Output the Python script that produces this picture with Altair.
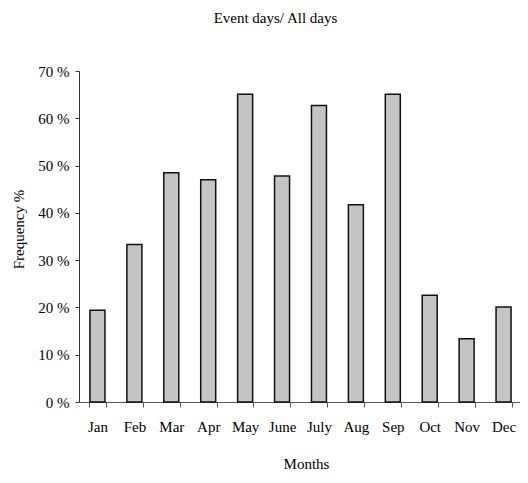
import altair as alt
import pandas as pd

months = ["Jan", "Feb", "Mar", "Apr", "May", "June", "July", "Aug", "Sep", "Oct", "Nov", "Dec"]
freq = [19.4, 33.3, 48.5, 47.0, 65.1, 47.8, 62.7, 41.7, 65.1, 22.6, 13.4, 20.1]
y_ticks = [0, 10, 20, 30, 40, 50, 60, 70]

df = pd.DataFrame({"Month": months, "Freq": freq})
FONT = "Liberation Serif"

chart = alt.Chart(
    df,
    title=alt.TitleParams(
        "Event days/ All days", font=FONT, fontSize=15, fontWeight="normal",
        color="black", anchor="middle", dx=-24, offset=26, baseline="alphabetic",
    ),
).mark_bar(
    size=15, fill="#c4c4c4", stroke="#111111", strokeWidth=1.5
).encode(
    x=alt.X("Month:N", sort=months, title="Months",
            scale=alt.Scale(paddingInner=0.55, paddingOuter=0.275, range=[0, 443]),
            axis=alt.Axis(labelAngle=0, tickBand="extent", tickSize=5, tickColor="#555555",
                          domainColor="#555555", labelPadding=12, labelFont=FONT, labelFontSize=15,
                          labelColor="black", titleFont=FONT, titleFontSize=15,
                          titleFontWeight="normal", titleColor="black",
                          titleX=227, titleY=66, titleBaseline="alphabetic")),
    y=alt.Y("Freq:Q", title="Frequency %",
            scale=alt.Scale(domain=[0, 70], nice=False),
            axis=alt.Axis(values=y_ticks, labelExpr="datum.value + ' %'", grid=False,
                          tickSize=4, tickColor="#333333", domainColor="#333333",
                          labelPadding=6, labelFont=FONT, labelFontSize=15, labelColor="black",
                          titleFont=FONT, titleFontSize=15, titleFontWeight="normal",
                          titleColor="black", titleX=-53, titleY=158, titleAngle=-90,
                          titleBaseline="bottom")),
).properties(
    width=441, height=331,
    padding={"left": 71, "top": 63, "right": 0, "bottom": 68},
    autosize=alt.AutoSizeParams(type="none"),
).configure_view(stroke=None)

chart.save("out.html", embed_options={"renderer": "svg", "actions": False})
